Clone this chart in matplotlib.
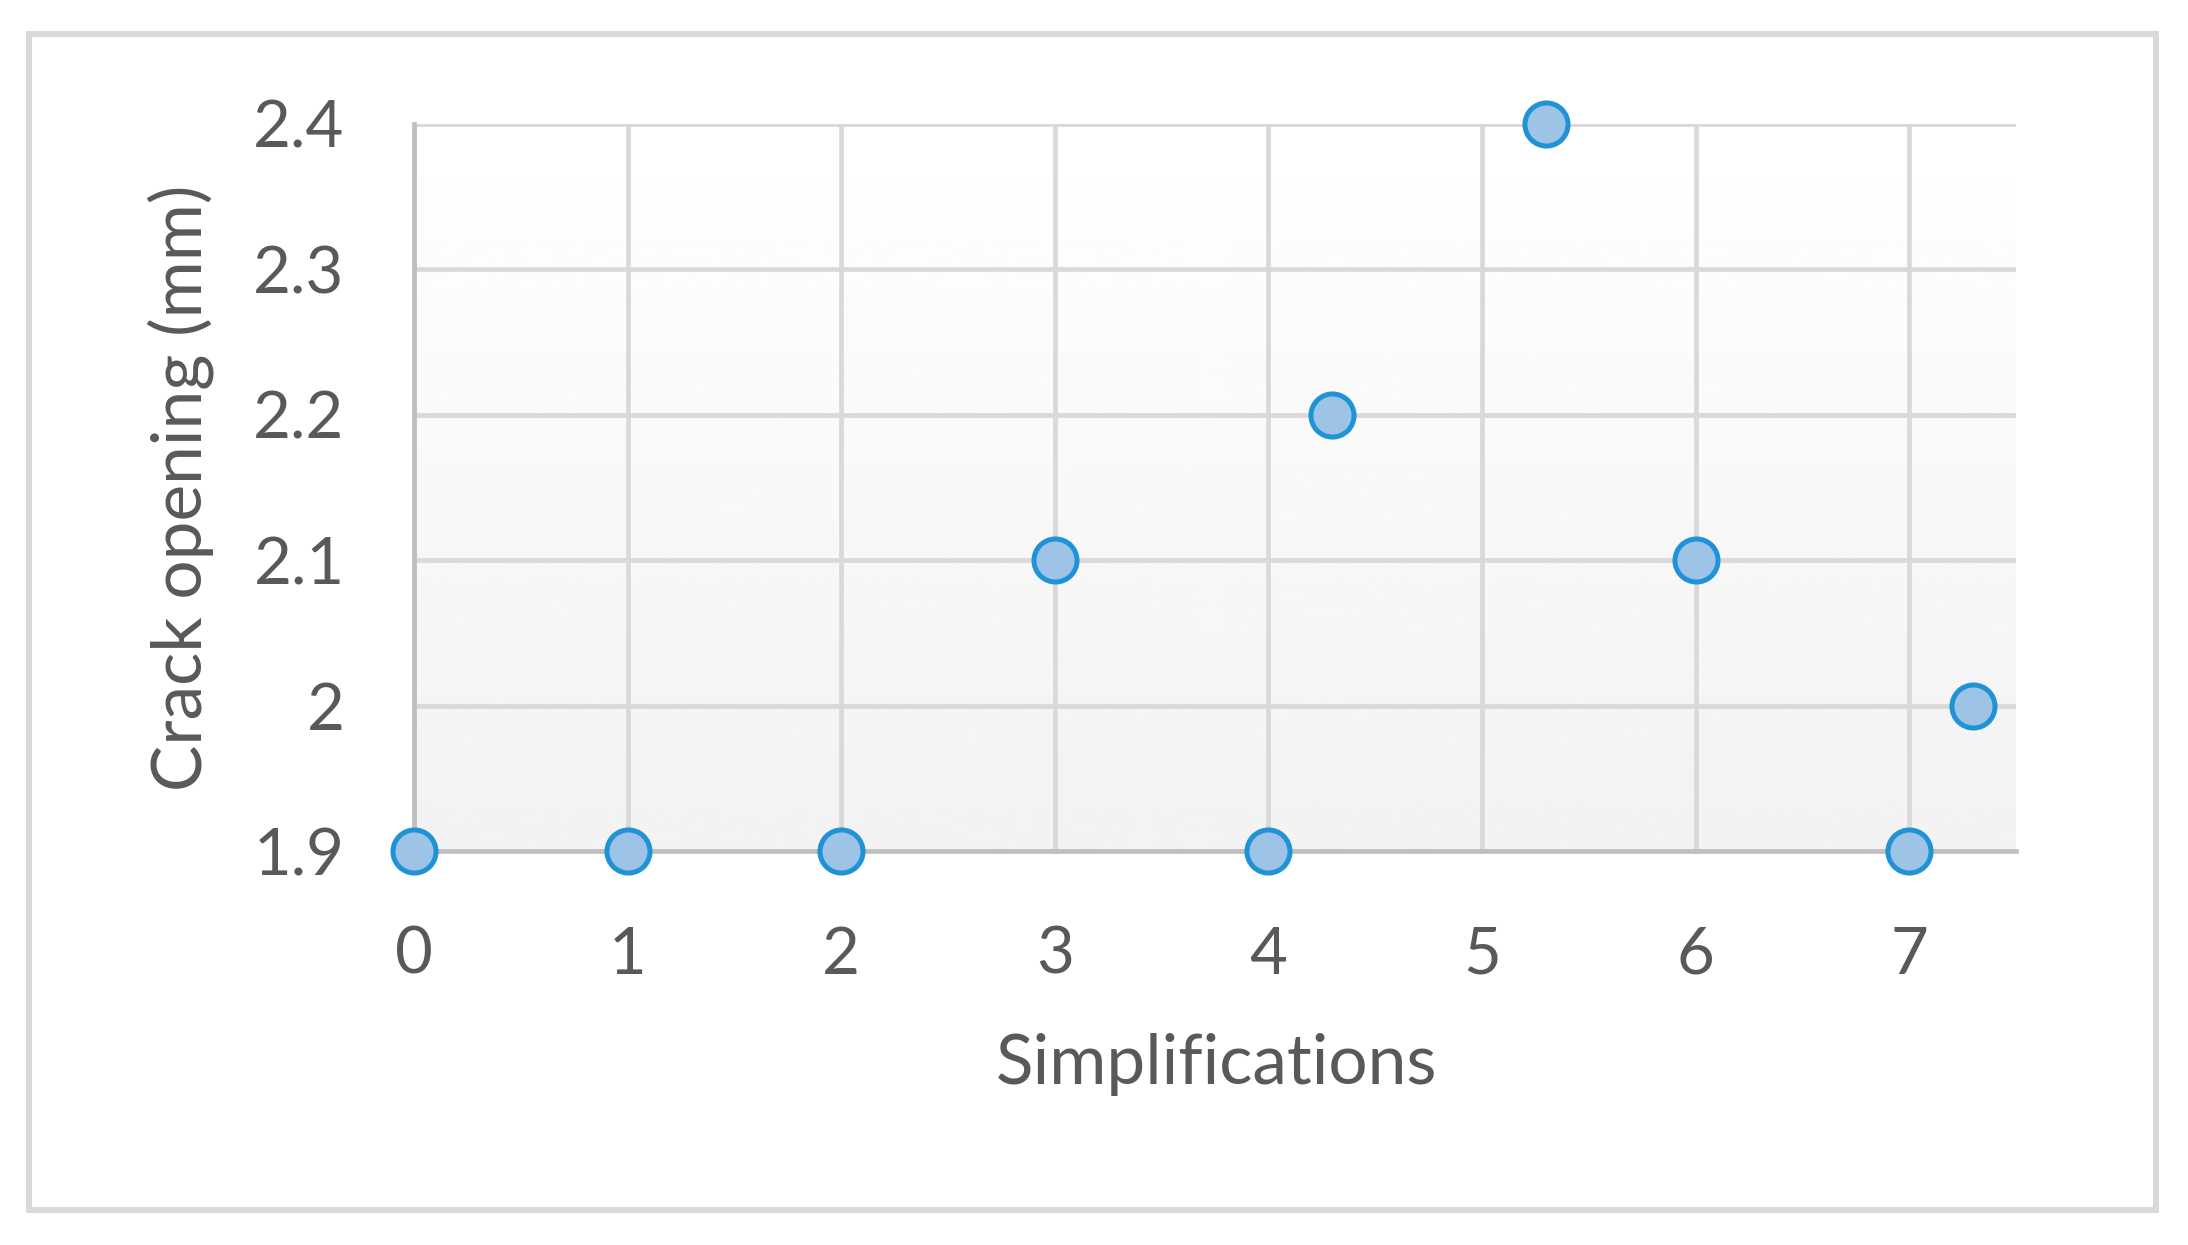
import numpy as np
import matplotlib
matplotlib.use('Agg')
import matplotlib.pyplot as plt
from matplotlib.patches import Rectangle

# data
simplifications = [0, 1, 2, 3, 4, 4.3, 5.3, 6, 7, 7.3]
crack_opening = [1.9, 1.9, 1.9, 2.1, 1.9, 2.2, 2.4, 2.1, 1.9, 2.0]
x_ticks = [0, 1, 2, 3, 4, 5, 6, 7]
y_ticks = [1.9, 2.0, 2.1, 2.2, 2.3, 2.4]
y_tick_labels = ['1.9', '2', '2.1', '2.2', '2.3', '2.4']

plt.rcParams['font.family'] = ['Lato', 'DejaVu Sans']
text_col = '#595959'
grid_col = '#d9d9d9'

W, H = 2188, 1245
fig = plt.figure(figsize=(W / 100, H / 100), dpi=100)
fig.patch.set_facecolor('white')

# outer chart border
fig.patches.append(Rectangle((29 / W, 1 - 1210 / H), (2156 - 29) / W, (1210 - 34) / H,
                             transform=fig.transFigure, fill=False,
                             edgecolor=grid_col, linewidth=4.3))

ax = fig.add_axes([414 / W, 1 - 851 / H, (2016 - 414) / W, (851 - 124) / H])
ax.set_xlim(0, 7.5)
ax.set_ylim(1.9, 2.4)

# soft vertical gradient in the plot area
grad = np.linspace(0.95, 1.0, 256).reshape(-1, 1)
ax.imshow(grad, extent=[0, 7.5, 1.9, 2.4], origin='lower', aspect='auto',
          cmap='gray', vmin=0, vmax=1, zorder=0, interpolation='bilinear')

for xv in x_ticks:
    ax.axvline(xv, color=grid_col, lw=3.4, zorder=1)
for yv in y_ticks:
    ax.axhline(yv, color=grid_col, lw=3.4, zorder=1)

for s in ['top', 'right']:
    ax.spines[s].set_visible(False)
for s in ['left', 'bottom']:
    ax.spines[s].set_color('#bfbfbf')
    ax.spines[s].set_linewidth(3.4)
    ax.spines[s].set_zorder(2)

ax.plot(simplifications, crack_opening, linestyle='none', marker='o',
        markersize=31, markerfacecolor='#9dc3e6', markeredgecolor='#1f93d6',
        markeredgewidth=3.6, clip_on=False, zorder=5)

ax.set_xticks(x_ticks)
ax.set_xticklabels([str(v) for v in x_ticks])
ax.set_yticks(y_ticks)
ax.set_yticklabels(y_tick_labels)
ax.tick_params(axis='both', length=0, labelsize=47, labelcolor=text_col)
ax.tick_params(axis='x', pad=54)
ax.tick_params(axis='y', pad=50)

fig.text(1217 / W, 1 - 1065 / H, 'Simplifications', fontsize=50, color=text_col,
         ha='center', va='center')
fig.text(181 / W, 1 - 488 / H, 'Crack opening (mm)', fontsize=50, color=text_col,
         ha='center', va='center', rotation=90)

fig.savefig('out.png', dpi=100, facecolor='white')
